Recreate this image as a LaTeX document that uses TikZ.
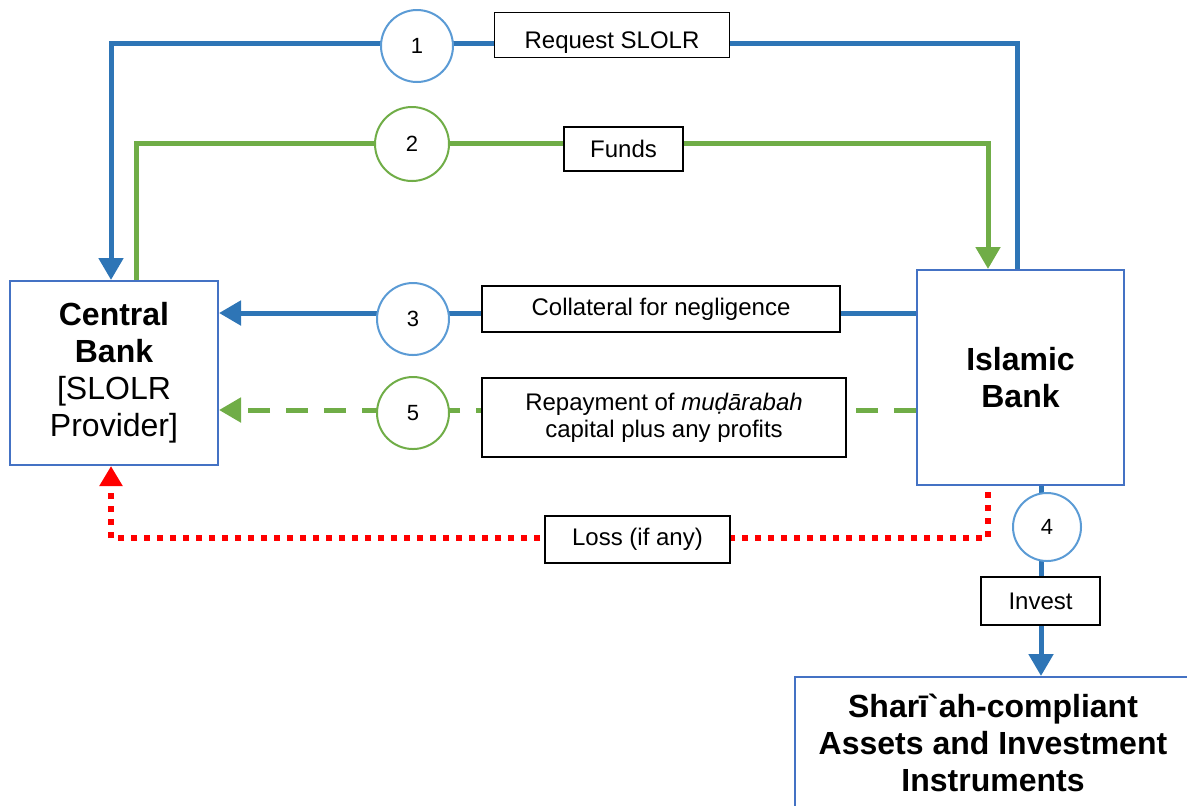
\documentclass[tikz,border=0pt]{standalone}
\usepackage{fontspec}
\setmainfont{Liberation Sans}
\usetikzlibrary{arrows.meta,backgrounds}
\definecolor{lineblue}{HTML}{2E75B6}
\definecolor{boxblue}{HTML}{4472C4}
\definecolor{ringblue}{HTML}{5B9BD5}
\definecolor{flowgreen}{HTML}{70AD47}
\begin{document}
\begin{tikzpicture}[x=0.5pt,y=-0.5pt,>={Triangle[width=12pt,length=11pt]},
  party/.style={draw=boxblue,line width=1pt,fill=white,align=center,font=\fontsize{16}{18.5}\selectfont},
  tag/.style={draw=black,line width=0.8pt,fill=white,inner sep=0pt,align=center,font=\fontsize{12}{13.5}\selectfont},
  num/.style={circle,draw=ringblue,line width=1pt,fill=white,inner sep=0pt,minimum size=36pt,font=\fontsize{11}{13}\selectfont},
  blueflow/.style={draw=lineblue,line width=2.5pt},
  greenflow/.style={draw=flowgreen,line width=2.5pt},
  lossflow/.style={draw=red,line width=3pt,dash pattern=on 3pt off 3.5pt}]
\clip (0,0) rectangle (1187,805);
%%
\node (node_cb) at (114,373) [party,minimum width=104pt,minimum height=92pt] {\textbf{Central}\\\textbf{Bank}\\{[SLOLR}\\Provider]};
\node (node_ib) at (1020.5,377.5) [party,minimum width=103.5pt,minimum height=107.5pt] {\textbf{Islamic}\\\textbf{Bank}};
\node (node_sh) at (993,743) [party,minimum width=198pt,minimum height=66pt,font=\bfseries\fontsize{16}{18.5}\selectfont] {Sharī\textasciigrave ah-compliant\\Assets and Investment\\Instruments};
%
\node (node_req) at (612,35) [tag,minimum width=117.5pt,minimum height=22.5pt,text height=13pt,text depth=0pt] {Request SLOLR};
\node (node_funds) at (623.5,149) [tag,minimum width=59.5pt,minimum height=22pt] {Funds};
\node (node_coll) at (661,309) [tag,minimum width=179pt,minimum height=23pt] {Collateral for negligence};
\node (node_repay) at (664,417.5) [tag,minimum width=182pt,minimum height=39.5pt] {Repayment of \textit{muḍārabah}\\capital plus any profits};
\node (node_loss) at (637.5,539.5) [tag,minimum width=92.5pt,minimum height=23.5pt] {Loss (if any)};
\node (node_inv) at (1040.5,601) [tag,minimum width=59.5pt,minimum height=24pt] {Invest};
%
\node (node_1) at (417,46) [num] {1};
\node (node_2) at (412,144) [num,draw=flowgreen,minimum size=37pt] {2};
\node (node_3) at (413,319) [num] {3};
\node (node_5) at (413,413) [num,draw=flowgreen] {5};
\node (node_4) at (1047,527) [num,minimum size=34pt] {4};
%
\coordinate (node_1r) at (1017,43);
\coordinate (node_1l) at (111,43);
\coordinate (node_2l) at (136,143);
\coordinate (node_2r) at (988,143);
\coordinate (node_3r) at (917,313);
\coordinate (node_5r) at (917,410);
\coordinate (node_lr) at (988,538);
\coordinate (node_ll) at (111,538);
\coordinate (node_4c) at (1041,527);
%
\begin{scope}[on background layer]
  \draw [blueflow,->] (node_ib.north -| node_1r) -- (node_1r) -- (node_1l) -- (node_cb.north -| node_1l);
  \draw [greenflow,->] (node_cb.north -| node_2l) -- (node_2l) -- (node_2r) -- (node_ib.north -| node_2r);
  \draw [blueflow,->] (node_ib.west |- node_3r) -- (node_cb.east |- node_3r);
  \draw [greenflow,dash pattern=on 11pt off 8pt,->] (node_ib.west |- node_5r) -- (node_cb.east |- node_5r);
  \draw [lossflow,-{Triangle[width=11pt,length=10pt]}] ([yshift=-3pt]node_ib.south -| node_lr) -- (node_lr) -- (node_ll) -- (node_cb.south -| node_ll);
  \draw [blueflow,->] (node_ib.south -| node_4c) -- (node_sh.north -| node_4c);
\end{scope}
%
\end{tikzpicture}
\end{document}
